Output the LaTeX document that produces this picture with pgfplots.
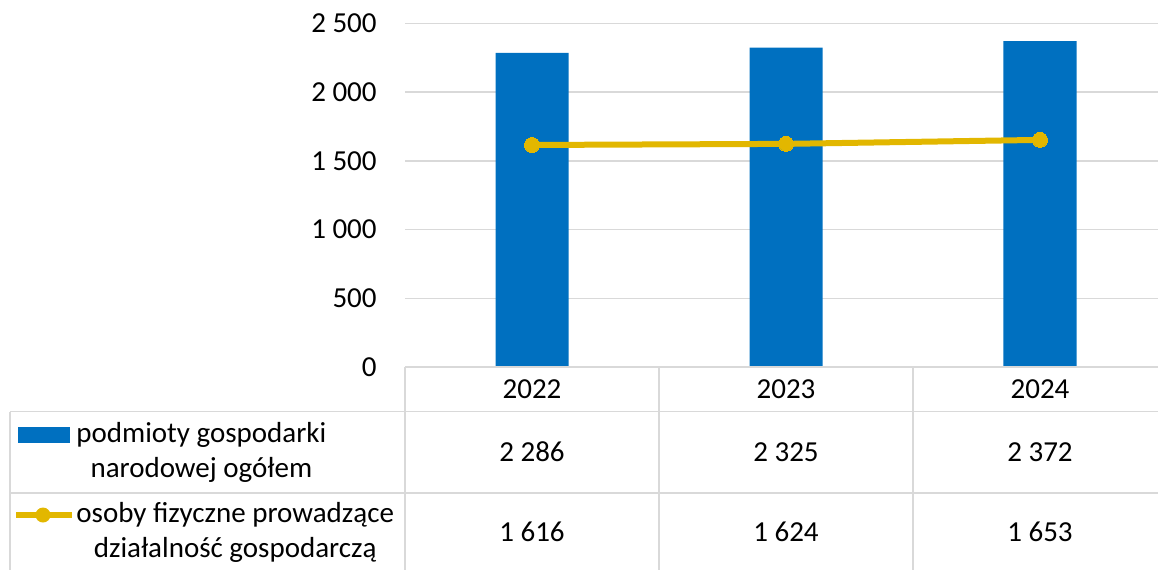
\documentclass[border=0pt]{standalone}
\usepackage{pgfplots}
\pgfplotsset{compat=1.18}
\usepackage{fontspec}
\setmainfont{Carlito}
\definecolor{barblue}{RGB}{0,112,192}
\definecolor{linegold}{RGB}{226,183,0}
\definecolor{gridgray}{RGB}{217,217,217}
\begin{document}
\fontsize{14.5}{17.5}\selectfont
\begin{tikzpicture}[x=0.5pt,y=-0.5pt]
\useasboundingbox (0,0) rectangle (1158,570);
\clip (0,0) rectangle (1158,570);
\begin{axis}[
  at={(202.5pt,-183.5pt)}, anchor=south west,
  scale only axis, width=381pt, height=171.75pt,
  xmin=-0.5, xmax=2.5, ymin=0, ymax=2500,
  axis line style={draw=none}, tick style={draw=none},
  /pgf/number format/assume math mode=true,
  ytick={0,500,1000,1500,2000,2500},
  yticklabels={0,500,1 000,1 500,2 000,2 500},
  yticklabel style={anchor=east, inner sep=0pt, xshift=-14pt, font=\fontsize{14.5}{17.5}\selectfont},
  xtick={0,1,2}, xticklabels={2022,2023,2024},
  xticklabel style={anchor=center, inner sep=0pt, yshift=-11pt, font=\fontsize{14.5}{17.5}\selectfont},
  ymajorgrids, grid style={gridgray, line width=0.8pt},
  clip=false,
]
\addplot[ybar, bar width=36.5pt, fill=barblue, draw=none] coordinates {(0,2286) (1,2325) (2,2372)};
\addplot[linegold, line width=3pt, mark=*, mark size=3.75pt, mark options={fill=linegold, draw=linegold, line width=0pt}] coordinates {(0,1616) (1,1624) (2,1653)};
\node at (axis cs:0,-618.6) {2 286};
\node at (axis cs:1,-618.6) {2 325};
\node at (axis cs:2,-618.6) {2 372};
\node at (axis cs:0,-1200.9) {1 616};
\node at (axis cs:1,-1200.9) {1 624};
\node at (axis cs:2,-1200.9) {1 653};
\end{axis}
\begin{scope}[gridgray, line width=0.75pt]
\draw (405,367) -- (1158,367);
\draw (10,411.5) -- (1158,411.5);
\draw (10,493) -- (1158,493);
\draw (10,411.5) -- (10,570);
\draw (405,367) -- (405,570);
\draw (659,367) -- (659,570);
\draw (913,367) -- (913,570);
\end{scope}
\fill[barblue] (18,427) rectangle (70,443);
\draw[linegold, line width=3pt] (16,515) -- (72,515);
\fill[linegold] (43,515) circle (3.75pt);
\node[anchor=west, align=center, inner sep=0pt] at (76,452.5) {podmioty gospodarki\\narodowej ogółem};
\node[anchor=west, align=center, inner sep=0pt] at (76,532.5) {osoby fizyczne prowadzące\\działalność gospodarczą};
\end{tikzpicture}
\end{document}
